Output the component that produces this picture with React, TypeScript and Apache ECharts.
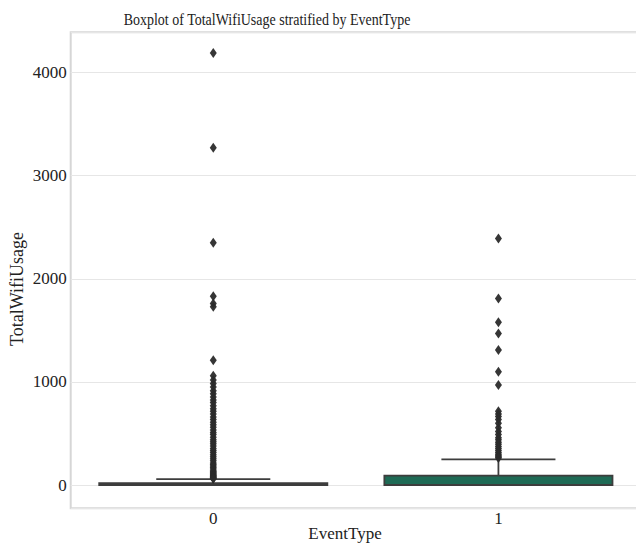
import React, { useEffect, useRef } from "react";
import * as echarts from "echarts";

const categories = ["0", "1"];
// [min(lower whisker), Q1, median, Q3, max(upper whisker)]
const boxStats = [
  [0, 0, 0, 18, 58],
  [0, 0, 2, 92, 250],
];
const outliers0 = [
  4190, 3270, 2350, 1830, 1760, 1730, 1210, 1060, 1020, 985, 950, 915, 885, 855,
  825, 800, 770, 740, 715, 690, 660, 635, 610, 585, 560, 535, 510, 490, 465, 440,
  420, 400, 380, 355, 335, 315, 295, 275, 255, 235, 215, 200, 185, 170, 155, 140,
  130, 120, 110, 100, 92, 85, 78, 72, 66, 62,
];
const outliers1 = [
  2390, 1810, 1580, 1470, 1310, 1100, 970, 715, 690, 665, 635, 600, 555, 520,
  490, 460, 440, 415, 395, 375, 355, 335, 315, 300, 285, 272, 262,
];
const yTicks = [0, 1000, 2000, 3000, 4000];

const titleText = "Boxplot of TotalWifiUsage stratified by EventType";
const xName = "EventType";
const yName = "TotalWifiUsage";
const boxColors = ["#2e4a3f", "#1e6a55"];

export default function App() {
  const ref = useRef<HTMLDivElement>(null);
  useEffect(() => {
    if (!ref.current) return;
    const chart = echarts.init(ref.current, null, { renderer: "svg" });
    const font = "'Liberation Serif', 'Times New Roman', serif";
    const boxData = boxStats.map((s, i) => ({
      value: [i, ...s],
      itemStyle: { color: boxColors[i] },
    }));
    const scatterData = [
      ...outliers0.map((v) => [0, v]),
      ...outliers1.map((v) => [1, v]),
    ];
    chart.setOption({
      animation: false,
      backgroundColor: "#ffffff",
      grid: {
        left: 70.7,
        top: 32.3,
        right: -5,
        bottom: 37.7,
        outerBoundsMode: "none",
        containLabel: false,
        show: true,
        borderColor: "#d6d6d6",
        borderWidth: 2,
        backgroundColor: "transparent",
      },
      graphic: [
        {
          type: "text",
          x: 267,
          y: 19,
          scaleY: 1.2,
          style: {
            text: titleText,
            font: `14px ${font}`,
            fill: "#222",
            align: "center",
            verticalAlign: "middle",
          },
        },
        {
          type: "text",
          x: 345,
          y: 533,
          style: {
            text: xName,
            font: `17px ${font}`,
            fill: "#222",
            align: "center",
            verticalAlign: "middle",
          },
        },
        {
          type: "text",
          x: 17,
          y: 289,
          rotation: Math.PI / 2,
          style: {
            text: yName,
            font: `18px ${font}`,
            fill: "#222",
            align: "center",
            verticalAlign: "middle",
          },
        },
      ],
      xAxis: {
        type: "category",
        data: categories,
        boundaryGap: true,
        axisLine: { show: false },
        axisTick: { show: false },
        axisLabel: {
          fontFamily: font,
          fontSize: 17,
          color: "#222",
          margin: 2,
        },
        splitLine: { show: false },
      },
      yAxis: {
        type: "value",
        min: -225,
        max: 4390,
        splitNumber: 5,
        axisLine: { show: false },
        axisTick: { show: false },
        axisLabel: {
          fontFamily: font,
          fontSize: 17,
          color: "#222",
          margin: 4,
          formatter: (v: number) => (yTicks.includes(v) ? String(v) : ""),
        },
        splitLine: {
          show: true,
          lineStyle: { color: "#e6e6e6", width: 1 },
        },
      },
      series: [
        {
          type: "custom",
          name: "box",
          encode: { x: 0, y: [1, 2, 3, 4, 5] },
          data: boxData,
          z: 2,
          renderItem: (params: any, api: any) => {
            const x = api.value(0);
            const pMin = api.coord([x, api.value(1)]);
            const pQ1 = api.coord([x, api.value(2)]);
            const pMed = api.coord([x, api.value(3)]);
            const pQ3 = api.coord([x, api.value(4)]);
            const pMax = api.coord([x, api.value(5)]);
            const band = api.size([1, 0])[0];
            const bw = band * 0.8;
            const cw = bw * 0.5;
            const cx = pQ1[0];
            const stroke = "#3d3d3d";
            const lw = 1.8;
            const fill = boxColors[params.dataIndex];
            return {
              type: "group",
              children: [
                {
                  type: "line",
                  shape: { x1: cx, y1: pQ3[1], x2: cx, y2: pMax[1] },
                  style: { stroke, lineWidth: lw },
                },
                {
                  type: "line",
                  shape: { x1: cx, y1: pQ1[1], x2: cx, y2: pMin[1] },
                  style: { stroke, lineWidth: lw },
                },
                {
                  type: "line",
                  shape: { x1: cx - cw / 2, y1: pMax[1], x2: cx + cw / 2, y2: pMax[1] },
                  style: { stroke, lineWidth: lw },
                },
                {
                  type: "line",
                  shape: { x1: cx - cw / 2, y1: pMin[1], x2: cx + cw / 2, y2: pMin[1] },
                  style: { stroke, lineWidth: lw },
                },
                {
                  type: "rect",
                  shape: {
                    x: cx - bw / 2,
                    y: pQ3[1],
                    width: bw,
                    height: Math.max(pQ1[1] - pQ3[1], 1),
                  },
                  style: { fill, stroke, lineWidth: lw },
                },
                {
                  type: "line",
                  shape: { x1: cx - bw / 2, y1: pMed[1], x2: cx + bw / 2, y2: pMed[1] },
                  style: { stroke, lineWidth: lw },
                },
              ],
            };
          },
        },
        {
          type: "scatter",
          name: "outliers",
          data: scatterData,
          symbol: "diamond",
          symbolSize: [7, 10],
          z: 3,
          itemStyle: { color: "#2b2b2b", opacity: 0.95 },
        },
      ],
    });
    return () => chart.dispose();
  }, []);
  return (
    <div
      ref={ref}
      style={{ position: "fixed", left: 0, top: 0, width: 636, height: 546 }}
    />
  );
}
